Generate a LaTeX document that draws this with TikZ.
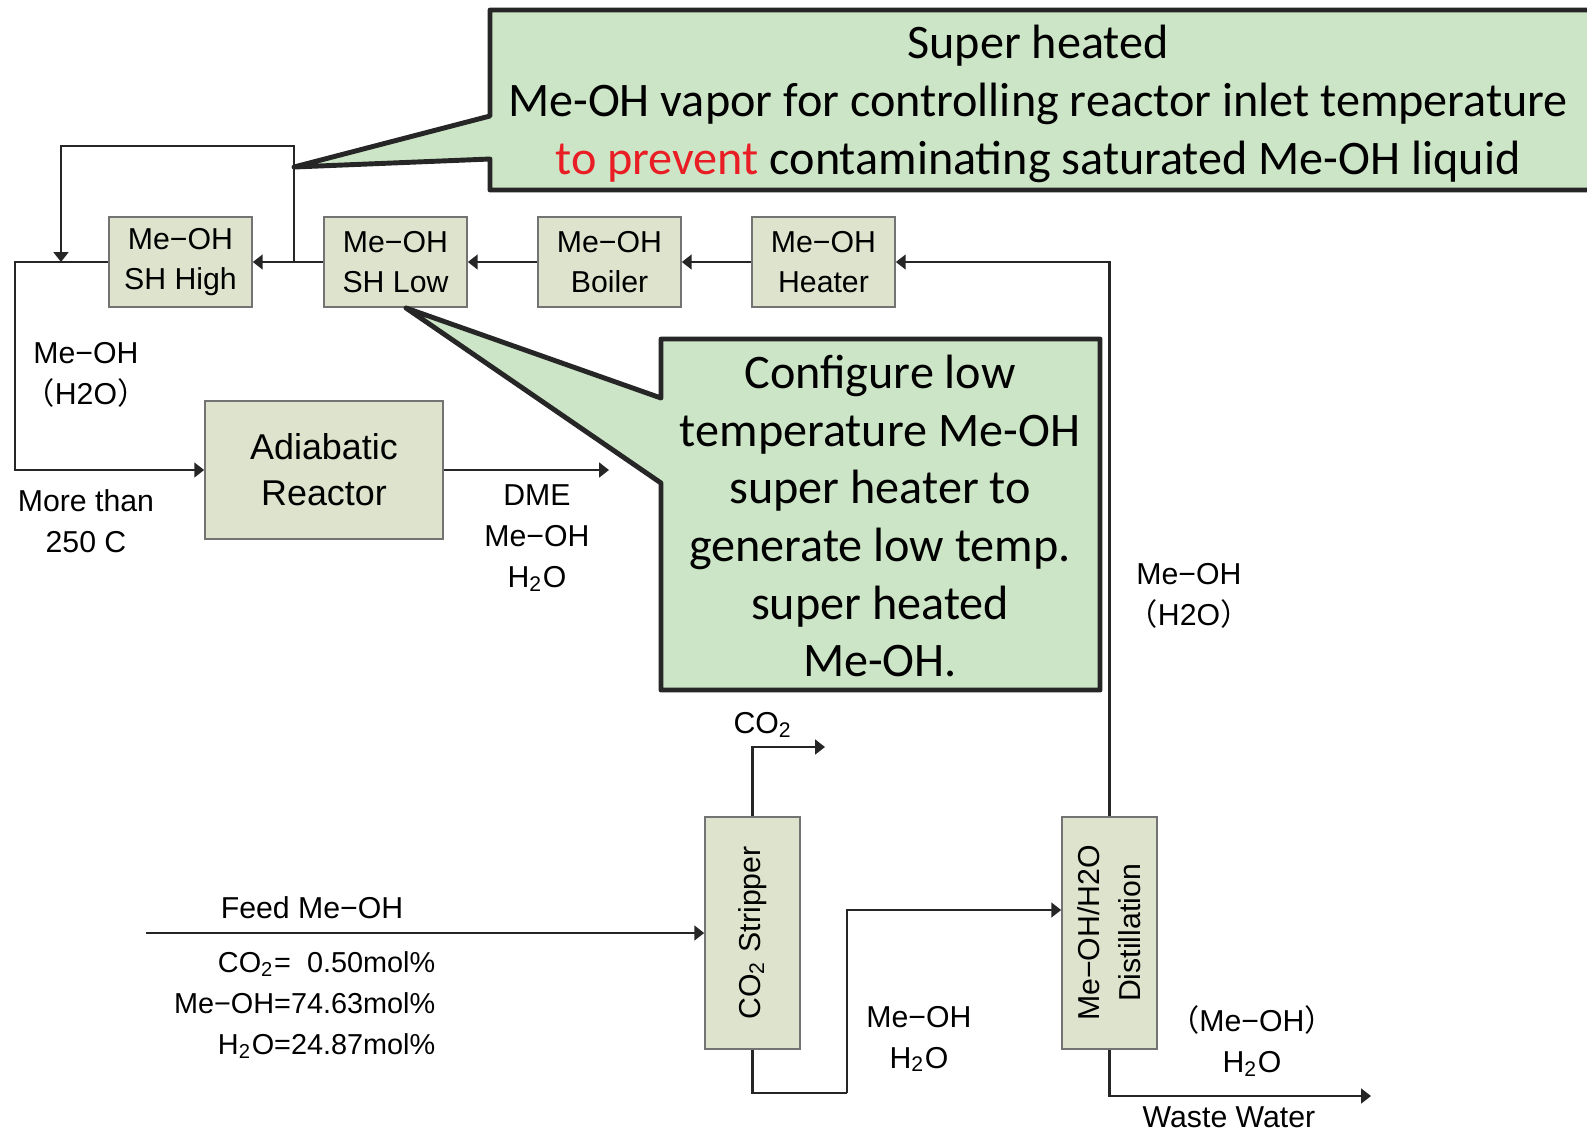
\documentclass[tikz,border=0pt]{standalone}
\usepackage{fontspec}
\setmainfont{Liberation Sans}
\newfontfamily\notefont{Carlito}
\newfontfamily\cjk{Noto Sans CJK JP}
\usepackage{tikz}
\usetikzlibrary{arrows.meta,positioning,calc}
\usepackage{xcolor}
\definecolor{unitfill}{RGB}{221,227,204}
\definecolor{notefill}{RGB}{205,229,199}
\definecolor{notered}{RGB}{232,30,36}
\newcommand{\flowfont}{\fontsize{8.6}{11.6}\selectfont}
\newcommand{\compfont}{\fontsize{8.2}{11.6}\selectfont}
\newcommand{\bigunitfont}{\fontsize{10.2}{13}\selectfont}
\newcommand{\calloutfont}{\notefont\fontsize{13.7}{16.4}\selectfont}
\newcommand{\MeOH}{Me−OH}
\newcommand{\Htwo}{H\textsubscript{2}O}
\newcommand{\fwl}{{\cjk （}}
\newcommand{\fwr}{{\cjk ）}}

\begin{document}
\begin{tikzpicture}[
  x=0.01cm, y=-0.01cm,
  unit/.style={draw=black!55, line width=0.45pt, fill=unitfill,
               minimum width=1.43cm, minimum height=0.9cm, font=\flowfont,
               inner sep=0pt},
  column/.style={unit, minimum width=0.95cm, minimum height=2.32cm},
  streamtext/.style={font=\flowfont, inner sep=0pt},
  pipe/.style={draw=black!85, line width=0.6pt},
  flow/.style={pipe, -{Triangle[length=2.8pt,width=4.2pt]}},
  note/.style={fill=notefill, draw=black!85, line width=1.4pt, line join=round},
  notetext/.style={font=\calloutfont, inner sep=0pt},
  every node/.style={align=center}
]
\useasboundingbox (0,0) rectangle (1587,1132);

%% Methanol vapor train
\foreach \n/\x/\t in {shhigh/180.5/SH High, shlow/395.5/SH Low,
                      boiler/609.5/Boiler, heater/823.5/Heater}{
  \node[unit] (\n) at (\x,262) {\MeOH\\\t};
}
\foreach \a/\b in {heater/boiler, boiler/shlow, shlow/shhigh}{
  \draw[flow] (\a.west) -- (\b.east);
}

%% Reactor and columns
\node[unit, minimum width=2.38cm, minimum height=1.38cm, font=\bigunitfont]
     (reactor) at (324,470) {Adiabatic\\Reactor};
\node[column] (stripper) at (752.5,933) {};
\node[streamtext, rotate=90] at (stripper.center) {CO\textsubscript{2} Stripper};
\node[column] (distil) at (1109.5,933) {};
\node[streamtext, rotate=90] at (distil.center) {\MeOH/H2O\\Distillation};

%% Free ends and bends
\coordinate (split) at (294,262);
\coordinate (loop) at (294,146);
\coordinate (mix) at (61,262);
\coordinate (bendl) at (15,262);
\coordinate (dmeout) at (609,470);
\coordinate (feed) at (146,933);
\coordinate (co2out) at (825,747);
\coordinate (riser) at (847,1093);
\coordinate (waste) at (1371,1096);

%% Streams
\draw[flow] (distil.north) |- (heater.east);
\draw[flow] (split) -- (loop) -| (mix);
\draw[flow] (shhigh.west) -- (bendl) |- (reactor.west);
\draw[flow] (reactor.east) -- (dmeout);
\draw[flow] (feed) -- (stripper.west);
\draw[flow] (stripper.north) |- (co2out);
\draw[pipe] (stripper.south) |- (riser);
\draw[flow] (riser) |- ($(distil.west)+(0,-23)$);
\draw[flow] (distil.south) |- (waste);

%% Stream labels
\node[streamtext] (recy) at (86,375) {\MeOH\\\fwl H2O\fwr};
\node[streamtext] (inlet) at (86,521) {More than\\250 C};
\node[streamtext] (prod) at (537,538) {DME\\\MeOH\\\Htwo};
\node[streamtext] (co2lab) at (763,725) {CO\textsubscript{2}};
\node[streamtext] (feedlab) at (312,908) {Feed \MeOH};
\node[streamtext, font=\compfont, align=right, anchor=east] (comp) at (436,1005)
     {CO\textsubscript{2}=\ \ 0.50mol\%\\\MeOH=74.63mol\%\\\Htwo=24.87mol\%};
\node[streamtext] (botlab) at (919,1039) {\MeOH\\\Htwo};
\node[streamtext] (toplab) at (1189,596) {\MeOH\\\fwl H2O\fwr};
\node[streamtext] (wwlab) at (1252,1041) {\fwl\MeOH\fwr\\\Htwo};
\node[streamtext] (wwname) at (1229,1117) {Waste Water};

%% Callouts
\path[note] (490,10) -- (1598,10) -- (1598,190) -- (490,190)
  -- (490,159) -- (294,167) -- (490,116) -- cycle;
\node[notetext] (superheat) at (1038,104)
  {Super heated\\Me-OH vapor for controlling reactor inlet temperature\\
   \textcolor{notered}{to prevent} contaminating saturated Me-OH liquid};
\path[note] (661,339) -- (1100,339) -- (1100,690) -- (661,690)
  -- (661,483) -- (406,308) -- (661,398) -- cycle;
\node[notetext] (lowconf) at (880,516)
  {Configure low\\temperature Me-OH\\super heater to\\generate low temp.\\
   super heated\\Me-OH.};

\end{tikzpicture}
\end{document}
